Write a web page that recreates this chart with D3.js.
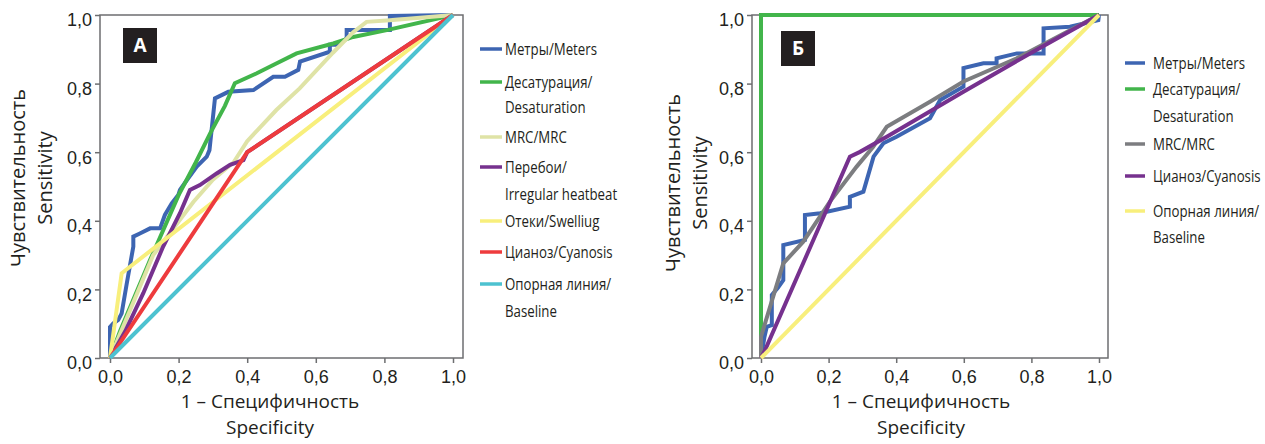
<!DOCTYPE html>
<html><head><meta charset="utf-8">
<script src="https://cdn.jsdelivr.net/npm/d3@7"></script>
<style>
html,body{margin:0;padding:0;background:#fff;}
svg{display:block;}
</style></head>
<body>
<svg id="chart" width="1265" height="444"></svg>
<script>
// ---------- DATA ----------
const tickValues = [0, 0.2, 0.4, 0.6, 0.8, 1.0];
const tickLabels = ["0,0", "0,2", "0,4", "0,6", "0,8", "1,0"];

// Panel A series (x = 1 - specificity, y = sensitivity)
const aMeters = [[0,0],[0,0.09],[0.01,0.101],[0.024,0.111],[0.034,0.13],[0.049,0.218],[0.068,0.325],[0.068,0.354],[0.087,0.363],[0.117,0.378],[0.146,0.378],[0.16,0.417],[0.18,0.451],[0.199,0.475],[0.204,0.49],[0.228,0.524],[0.253,0.558],[0.282,0.587],[0.29,0.606],[0.306,0.757],[0.345,0.776],[0.418,0.781],[0.476,0.82],[0.51,0.82],[0.549,0.84],[0.554,0.864],[0.641,0.893],[0.641,0.913],[0.666,0.913],[0.69,0.932],[0.69,0.956],[0.816,0.956],[0.816,0.997],[1,1]];
const aDesat = [[0,0],[0.03,0.08],[0.117,0.286],[0.2,0.475],[0.25,0.57],[0.292,0.655],[0.335,0.735],[0.364,0.801],[0.428,0.83],[0.476,0.854],[0.544,0.888],[0.651,0.917],[0.709,0.936],[0.807,0.956],[1,1]];
const aMRC = [[0,0],[0.126,0.3],[0.243,0.455],[0.3,0.52],[0.36,0.57],[0.4,0.632],[0.485,0.723],[0.553,0.786],[0.65,0.89],[0.709,0.95],[0.748,0.98],[0.816,0.985],[1,1]];
const aIrregular = [[0,0],[0.044,0.077],[0.097,0.189],[0.155,0.325],[0.204,0.422],[0.233,0.49],[0.262,0.504],[0.311,0.538],[0.35,0.563],[0.389,0.577],[0.4,0.6],[1,1]];
const aSwelling = [[0,0],[0.034,0.247],[1,1]];
const aCyanosis = [[0,0],[0.4,0.6],[1,1]];
const aBaseline = [[0,0],[1,1]];

// Panel B series
const bMeters = [[0,0],[0.01,0.06],[0.017,0.091],[0.032,0.096],[0.032,0.184],[0.05,0.205],[0.066,0.227],[0.066,0.329],[0.13,0.344],[0.13,0.417],[0.175,0.422],[0.263,0.441],[0.263,0.47],[0.303,0.485],[0.333,0.587],[0.362,0.626],[0.401,0.645],[0.5,0.699],[0.53,0.752],[0.599,0.791],[0.599,0.845],[0.658,0.859],[0.697,0.859],[0.697,0.874],[0.757,0.888],[0.836,0.888],[0.836,0.961],[0.914,0.966],[0.998,0.985],[1,1]];
const bDesat = [[0,0],[0,1],[1,1]];
const bMRC = [[0,0],[0,0.062],[0.036,0.179],[0.066,0.276],[0.125,0.339],[0.204,0.456],[0.283,0.558],[0.332,0.616],[0.372,0.674],[0.5,0.747],[0.599,0.806],[0.757,0.874],[1,1]];
const bCyanosis = [[0,0],[0.012,0.023],[0.263,0.587],[0.293,0.601],[0.372,0.645],[0.599,0.776],[0.796,0.888],[1,1]];
const bBaseline = [[0,0],[1,1]];

const legendA = ["Метры/Meters", "Десатурация/\nDesaturation", "MRC/MRC", "Перебои/\nIrregular heatbeat", "Отеки/Swelliug", "Цианоз/Cyanosis", "Опорная линия/\nBaseline"];
const legendB = ["Метры/Meters", "Десатурация/\nDesaturation", "MRC/MRC", "Цианоз/Cyanosis", "Опорная линия/\nBaseline"];

const xTitle = ["1 – Специфичность", "Specificity"];
const yTitle = ["Чувствительность", "Sensitivity"];

// ---------- STYLE ----------
const C = {blue:"#3d65b2", green:"#42b54b", pale:"#dfe3a6", purple:"#76318e", yellow:"#f8ef7c", red:"#ee3b3d", cyan:"#4dc2d0", gray:"#7c7d80"};

const svg = d3.select("#chart");
const TICKFONT = "'Liberation Sans', Arial, sans-serif";
const TITLEFONT = "'Open Sans', 'Noto Sans', sans-serif";
const LEGFONT = "'Open Sans', 'Noto Sans', sans-serif";

function panel(cfg) {
  const x = d3.scaleLinear().domain([0,1]).range([cfg.x0, cfg.x1]);
  const y = d3.scaleLinear().domain([0,1]).range([358, 15]);
  const g = svg.append("g");

  // frame
  g.append("rect").attr("x", cfg.fl).attr("y", 15).attr("width", cfg.fr - cfg.fl).attr("height", 343)
    .attr("fill", "none").attr("stroke", "#6d6e70").attr("stroke-width", 1.5);

  // axes
  const fmt = d => tickLabels[tickValues.indexOf(d)] || d3.format(".1f")(d).replace(".", ",");
  const ax = g.append("g").attr("transform", `translate(0,358)`)
    .call(d3.axisBottom(x).tickValues(tickValues).tickFormat(fmt).tickSize(5).tickSizeOuter(0));
  ax.select(".domain").remove();
  ax.selectAll("line").attr("stroke", "#6d6e70").attr("stroke-width", 1.5);
  ax.selectAll("text").attr("font-family", TICKFONT).attr("font-size", 18).attr("fill", "#231f20").attr("y", 12).attr("dy", "0.71em");

  const ay = g.append("g").attr("transform", `translate(${cfg.fl},0)`)
    .call(d3.axisLeft(y).tickValues(tickValues).tickFormat(fmt).tickSize(5).tickSizeOuter(0));
  ay.select(".domain").remove();
  ay.selectAll("line").attr("stroke", "#6d6e70").attr("stroke-width", 1.5);
  ay.selectAll("text").attr("font-family", TICKFONT).attr("font-size", 18).attr("fill", "#231f20").attr("x", -8).attr("dy", "0.6em");

  // series
  const line = d3.line().x(d => x(d[0])).y(d => y(d[1]));
  cfg.series.forEach(s => {
    g.append("path").datum(s.data).attr("d", line).attr("fill", "none")
      .attr("stroke", s.color).attr("stroke-width", 4).attr("stroke-linejoin", "miter").attr("stroke-linecap", "butt");
  });

  // panel label box
  g.append("rect").attr("x", cfg.box[0]).attr("y", cfg.box[1]).attr("width", 34).attr("height", 35).attr("fill", "#231f20");
  g.append("text").attr("x", cfg.box[0] + 17).attr("y", cfg.box[1] + 24).attr("text-anchor", "middle")
    .attr("font-family", TITLEFONT).attr("font-weight", "bold").attr("font-size", 19).attr("fill", "#fff").text(cfg.label);

  // x title
  xTitle.forEach((t, i) => {
    g.append("text").attr("x", cfg.xtc).attr("y", 408 + i * 26).attr("text-anchor", "middle")
      .attr("font-family", TITLEFONT).attr("font-size", 19).attr("fill", "#231f20").text(t);
  });
  // y title
  yTitle.forEach((t, i) => {
    g.append("text").attr("transform", `translate(${cfg.ytx + i * 27},${cfg.ytc}) rotate(-90)`)
      .attr("text-anchor", "middle").attr("font-family", TITLEFONT).attr("font-size", 20).attr("fill", "#231f20").text(t);
  });

  // legend
  cfg.legend.forEach((lab, i) => {
    const parts = lab.split("\n");
    const yy = cfg.legY[i];
    g.append("line").attr("x1", cfg.lx0).attr("x2", cfg.lx1).attr("y1", yy[0]).attr("y2", yy[0])
      .attr("stroke", cfg.series[i].color).attr("stroke-width", 3.5);
    parts.forEach((p, j) => {
      g.append("text").attr("transform", `translate(${cfg.tx},${yy[j]}) scale(0.78,1)`).attr("dy", "0.35em")
        .attr("font-family", LEGFONT).attr("font-size", 17).attr("fill", "#231f20").text(p);
    });
  });
}

panel({
  x0: 110, x1: 453, fl: 100, fr: 463, label: "А", box: [123, 28],
  xtc: 270, ytx: 25, ytc: 178,
  series: [
    {data: aMeters, color: C.blue},
    {data: aDesat, color: C.green},
    {data: aMRC, color: C.pale},
    {data: aIrregular, color: C.purple},
    {data: aSwelling, color: C.yellow},
    {data: aCyanosis, color: C.red},
    {data: aBaseline, color: C.cyan}
  ],
  legend: legendA, lx0: 480, lx1: 502, tx: 505,
  legY: [[49],[82,107],[137],[167,194],[221],[252],[284,311]]
});

panel({
  x0: 761, x1: 1099, fl: 752, fr: 1108, label: "Б", box: [781, 31],
  xtc: 921, ytx: 680, ytc: 183,
  series: [
    {data: bMeters, color: C.blue},
    {data: bDesat, color: C.green},
    {data: bMRC, color: C.gray},
    {data: bCyanosis, color: C.purple},
    {data: bBaseline, color: C.yellow}
  ],
  legend: legendB, lx0: 1125, lx1: 1145, tx: 1153,
  legY: [[63],[89,116],[144],[176],[211,237]]
});
</script>
</body></html>
